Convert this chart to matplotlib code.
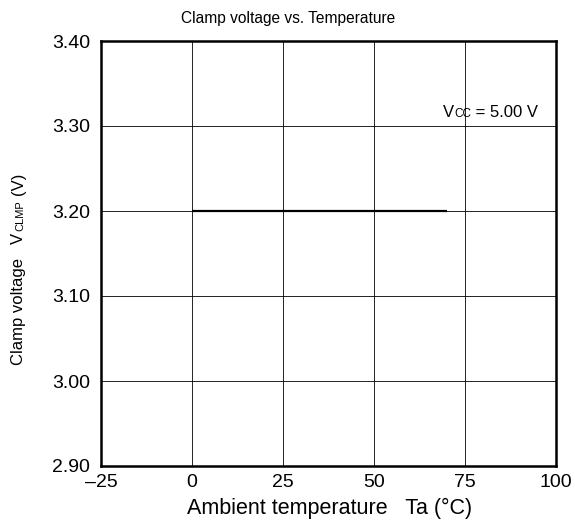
import matplotlib
matplotlib.use("Agg")
import matplotlib.pyplot as plt

temps = [0, 70]
vclmp = [3.20, 3.20]
xticks = [-25, 0, 25, 50, 75, 100]
yticks = [2.90, 3.00, 3.10, 3.20, 3.30, 3.40]
ytick_labels = ["2.90", "3.00", "3.10", "3.20", "3.30", "3.40"]
xtick_labels = ["\u201325", "0", "25", "50", "75", "100"]

plt.rcParams['font.family'] = ['Liberation Sans', 'DejaVu Sans']
W, H = 575, 522
fig = plt.figure(figsize=(W/100, H/100), dpi=100)
ax = fig.add_axes([101/W, 1-466/H, (556-101)/W, (466-41)/H])

ax.plot(temps, vclmp, color='black', lw=1.6, solid_capstyle='butt', zorder=3)
ax.set_xlim(-25, 100)
ax.set_ylim(2.90, 3.40)
ax.set_xticks(xticks)
ax.set_xticklabels(xtick_labels)
ax.set_yticks(yticks)
ax.set_yticklabels(ytick_labels)
ax.tick_params(axis='both', length=0, labelsize=14)
ax.tick_params(axis='y', pad=8)
ax.tick_params(axis='x', pad=6)
ax.grid(True, color='black', lw=0.6)
for s in ax.spines.values():
    s.set_linewidth(1.8)

fig.text(288/W, 1-18/H, "Clamp voltage vs. Temperature", fontsize=11.2,
         ha='center', va='center')
fig.text(330/W, 1-508/H, "Ambient temperature   Ta (\u00b0C)", fontsize=15.5,
         ha='center', va='center')

# Vcc annotation
t1 = ax.text(443/W, 1-117/H, "V", transform=fig.transFigure, fontsize=12,
             ha='left', va='baseline', zorder=5)
t2 = ax.annotate("CC", xy=(1, 0), xycoords=t1, fontsize=8.5, ha='left', va='bottom',
                 annotation_clip=False)
t3 = ax.annotate(" = 5.00 V", xy=(1, 0), xycoords=t2, fontsize=12, ha='left', va='bottom',
                 annotation_clip=False)

# Y label pieces
fs = 12
fig.text(23/W, 1-365/H, "Clamp voltage", rotation=90, rotation_mode='anchor',
         ha='left', va='baseline', fontsize=fs)
fig.text(23/W, 1-244/H, "V", rotation=90, rotation_mode='anchor',
         ha='left', va='baseline', fontsize=fs)
fig.text(23/W, 1-231/H, "CLMP", rotation=90, rotation_mode='anchor',
         ha='left', va='baseline', fontsize=8)
fig.text(23/W, 1-195/H, "(V)", rotation=90, rotation_mode='anchor',
         ha='left', va='baseline', fontsize=fs)

fig.savefig("out.png", dpi=100)
